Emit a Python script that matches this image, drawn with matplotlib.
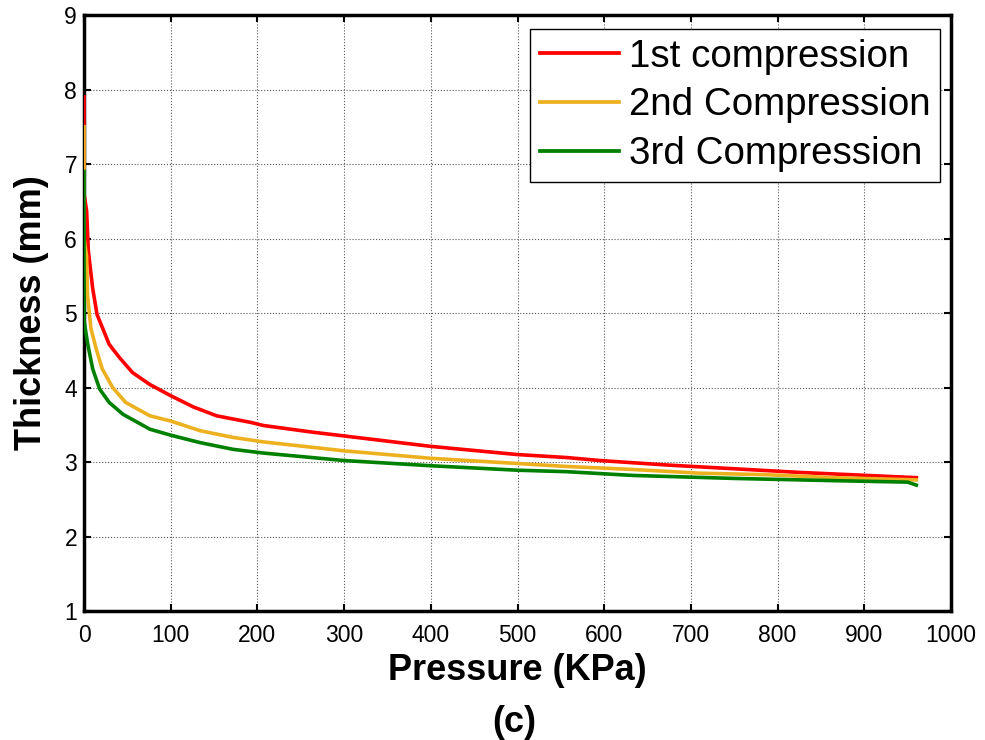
import matplotlib
matplotlib.use("Agg")
import matplotlib.pyplot as plt

plt.rcParams['font.family'] = ['Liberation Sans', 'DejaVu Sans']

# thickness vs applied pressure, three successive compressions
red_x = [0, 0, 3, 5, 10, 15, 21, 29, 41, 56, 76, 100, 126, 153, 193, 207, 264, 300,
         400, 500, 557, 595, 672, 749, 826, 903, 960]
red_y = [7.9, 6.6, 6.37, 5.83, 5.33, 4.98, 4.81, 4.58, 4.40, 4.20, 4.04, 3.89, 3.74, 3.62,
         3.53, 3.49, 3.40, 3.35, 3.21, 3.10, 3.06, 3.02, 2.96, 2.91, 2.86, 2.82, 2.79]

orange_x = [0, 0, 3, 4, 8, 14, 21, 33, 48, 76, 100, 134, 172, 207, 300, 400, 500, 557,
            633, 710, 787, 864, 960]
orange_y = [7.5, 6.0, 5.76, 5.24, 4.79, 4.52, 4.25, 4.00, 3.80, 3.62, 3.55, 3.42, 3.33,
            3.27, 3.15, 3.05, 2.98, 2.94, 2.90, 2.85, 2.83, 2.79, 2.76]

green_x = [0, 0, 4, 10, 18, 29, 45, 76, 100, 134, 172, 207, 300, 400, 500, 557, 633,
           749, 864, 950, 960]
green_y = [6.9, 4.9, 4.6, 4.25, 3.98, 3.80, 3.64, 3.44, 3.36, 3.26, 3.17, 3.12, 3.02,
           2.95, 2.89, 2.87, 2.82, 2.78, 2.75, 2.73, 2.69]

labels = ['1st compression', '2nd Compression', '3rd Compression']
colors = ['#ff0000', '#edb120', '#008000']

fig = plt.figure(figsize=(9.85, 7.4), dpi=100)
ax = fig.add_axes([0.0853, 0.1743, 0.9655 - 0.0853, 0.9797 - 0.1743])

# zorder above the spines so the x=0 drop stays visible
for xs, ys, c, lab in zip([red_x, orange_x, green_x], [red_y, orange_y, green_y], colors, labels):
    ax.plot(xs, ys, color=c, lw=2.6, label=lab, zorder=3)

ax.set_xlim(0, 1000)
ax.set_ylim(1, 9)
ax.set_xticks(range(0, 1001, 100))
ax.set_yticks(range(1, 10))
ax.grid(True, color='0.35', linestyle=':', lw=0.8)
ax.tick_params(direction='in', length=5, width=1.5, top=True, right=True, labelsize=16.5)
ax.tick_params(axis='x', pad=9)
ax.tick_params(axis='y', pad=5)
for s in ax.spines.values():
    s.set_linewidth(2.5)

ax.set_xlabel('Pressure (KPa)', fontsize=26, fontweight='bold')
ax.set_ylabel('Thickness (mm)', fontsize=26, fontweight='bold')
ax.xaxis.set_label_coords(0.5, -0.07)
ax.yaxis.set_label_coords(-0.040, 0.5)
fig.text(0.522, 0.024, '(c)', fontsize=26, fontweight='bold', ha='center', va='center')

leg = ax.legend(loc='upper right', bbox_to_anchor=(0.9873, 0.9765), borderaxespad=0,
                fontsize=27.7, handlelength=2.05, handletextpad=0.26, borderpad=0.25,
                labelspacing=0.33, fancybox=False, framealpha=1, edgecolor='black')
leg.set_zorder(5)
leg.get_frame().set_linewidth(1.0)
for line in leg.get_lines():
    line.set_linewidth(2.7)

fig.savefig('out.png', dpi=100)
